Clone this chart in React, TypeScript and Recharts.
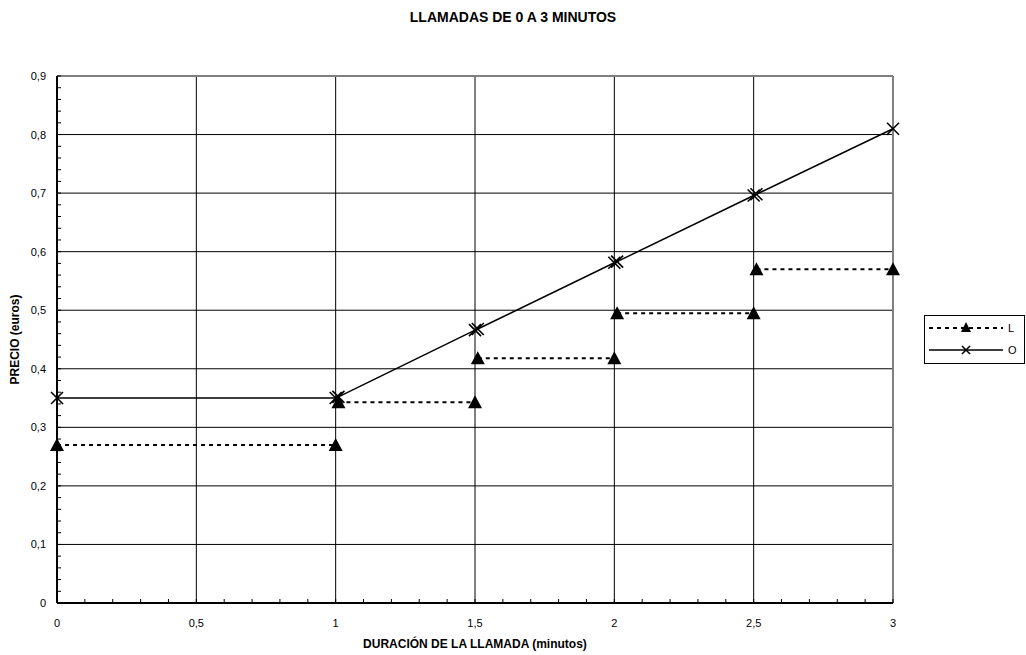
import { LineChart, Line, XAxis, YAxis, ReferenceLine, Legend, Label } from 'recharts';

// Duración de la llamada (minutos)
const durations = [0, 1, 1.01, 1.5, 1.51, 2, 2.01, 2.5, 2.51, 3];
// Precio (euros) por operador
const precioL = [0.27, 0.27, 0.343, 0.343, 0.418, 0.418, 0.495, 0.495, 0.57, 0.57];
const precioO = [0.35, 0.35, 0.352, 0.466, 0.468, 0.581, 0.583, 0.696, 0.698, 0.81];

const xMajorTicks = [0, 0.5, 1, 1.5, 2, 2.5, 3];
const yMajorTicks = [0, 0.1, 0.2, 0.3, 0.4, 0.5, 0.6, 0.7, 0.8, 0.9];

// minor tick marks: every 0.1 min on x, every 0.02 € on y
const xMinorTicks = Array.from({ length: 31 }, (_, i) => i / 10);
const yMinorTicks = Array.from({ length: 46 }, (_, i) => (i * 2) / 100);

// L is drawn as separate steps: a null row after each step breaks the dashed line
const data: { x: number; L: number | null; O: number | null }[] = [];
durations.forEach((x, i) => {
  data.push({ x, L: precioL[i], O: precioO[i] });
  if (i % 2 === 1 && i < durations.length - 1) {
    data.push({ x: (x + durations[i + 1]) / 2, L: null, O: null });
  }
});

const FONT = '"Liberation Sans", Arial, sans-serif';
const fmt = (v: number) => String(v).replace('.', ',');
const isMajor = (v: number, list: number[]) => list.some((m) => Math.abs(m - v) < 1e-6);

const Triangle = ({ cx, cy }: { cx: number; cy: number }) => (
  <path d={`M${cx},${cy - 7} L${cx + 7},${cy + 6} L${cx - 7},${cy + 6} Z`} fill="#000" />
);

const Cross = ({ cx, cy }: { cx: number; cy: number }) => (
  <g stroke="#000" strokeWidth={1.6}>
    <line x1={cx - 6} y1={cy - 6} x2={cx + 6} y2={cy + 6} />
    <line x1={cx - 6} y1={cy + 6} x2={cx + 6} y2={cy - 6} />
  </g>
);

const YTick = (props: any) => {
  const { x, y, payload } = props;
  const major = isMajor(payload.value, yMajorTicks);
  return (
    <g>
      <line x1={x} x2={x + 4} y1={y} y2={y} stroke="#000" strokeWidth={1} />
      {major && (
        <text x={x - 11} y={y} textAnchor="end" dominantBaseline="central" fontSize={11} fontFamily={FONT} fill="#000">
          {fmt(payload.value)}
        </text>
      )}
    </g>
  );
};

const XTick = (props: any) => {
  const { x, y, payload } = props;
  const major = isMajor(payload.value, xMajorTicks);
  return (
    <g>
      <line x1={x} x2={x} y1={y} y2={y - 4} stroke="#000" strokeWidth={1} />
      {major && (
        <text x={x} y={y + 20} textAnchor="middle" dominantBaseline="central" fontSize={11} fontFamily={FONT} fill="#000">
          {fmt(payload.value)}
        </text>
      )}
    </g>
  );
};

const LegendBox = () => (
  <svg width={101} height={49} style={{ display: 'block' }}>
    <rect x={0.5} y={0.5} width={100} height={48} fill="#fff" stroke="#000" strokeWidth={1} />
    <line x1={5} x2={79} y1={13} y2={13} stroke="#000" strokeWidth={2} strokeDasharray="4 4" />
    <path d="M42,7 L47,17 L37,17 Z" fill="#000" />
    <text x={84} y={13} dominantBaseline="central" fontSize={11} fontFamily={FONT}>L</text>
    <line x1={5} x2={79} y1={35} y2={35} stroke="#000" strokeWidth={1.5} />
    <g stroke="#000" strokeWidth={1.6}>
      <line x1={38} y1={31} x2={46} y2={39} />
      <line x1={38} y1={39} x2={46} y2={31} />
    </g>
    <text x={84} y={35} dominantBaseline="central" fontSize={11} fontFamily={FONT}>O</text>
  </svg>
);

export default function App() {
  return (
    <div style={{ position: 'absolute', left: 0, top: 0, width: 1026, height: 655, background: '#fff', fontFamily: FONT }}>
      <div
        style={{
          position: 'absolute',
          top: 9,
          left: 0,
          width: 1026,
          textAlign: 'center',
          fontSize: 14,
          fontWeight: 'bold',
          fontFamily: FONT,
          lineHeight: '16px',
        }}
      >
        LLAMADAS DE 0 A 3 MINUTOS
      </div>
      <LineChart width={1026} height={655} data={data} margin={{ top: 76, right: 133, bottom: 0, left: 0 }}>
        {yMajorTicks.slice(1, -1).map((v) => (
          <ReferenceLine key={`gy-${v}`} y={v} stroke="#000" strokeWidth={1} />
        ))}
        {xMajorTicks.slice(1, -1).map((v) => (
          <ReferenceLine key={`gx-${v}`} x={v} stroke="#000" strokeWidth={1} />
        ))}
        <ReferenceLine y={0.9} stroke="#808080" strokeWidth={2} />
        <ReferenceLine x={3} stroke="#808080" strokeWidth={2} />
        <XAxis
          dataKey="x"
          type="number"
          domain={[0, 3]}
          ticks={xMinorTicks}
          interval={0}
          height={52}
          tickSize={0}
          tickMargin={0}
          tickLine={false}
          tick={<XTick />}
          axisLine={{ stroke: '#000', strokeWidth: 2 }}
        >
          <Label
            value="DURACIÓN DE LA LLAMADA (minutos)"
            position="center"
            dy={15}
            style={{ fontSize: 12, fontWeight: 'bold', fontFamily: FONT, fill: '#000' }}
          />
        </XAxis>
        <YAxis
          type="number"
          domain={[0, 0.9]}
          ticks={yMinorTicks}
          interval={0}
          width={57}
          tickSize={0}
          tickMargin={0}
          tickLine={false}
          tick={<YTick />}
          axisLine={{ stroke: '#000', strokeWidth: 2 }}
        >
          <Label
            value="PRECIO (euros)"
            position="center"
            angle={-90}
            dx={-14}
            style={{ fontSize: 12, fontWeight: 'bold', fontFamily: FONT, fill: '#000', textAnchor: 'middle' }}
          />
        </YAxis>
        <Line
          type="linear"
          dataKey="L"
          stroke="#000"
          strokeWidth={2}
          strokeDasharray="4 4"
          connectNulls={false}
          isAnimationActive={false}
          dot={(p: any) =>
            p.value == null ? <g key={`l-${p.index}`} /> : <Triangle key={`l-${p.index}`} cx={p.cx} cy={p.cy} />
          }
          activeDot={false}
        />
        <Line
          type="linear"
          dataKey="O"
          stroke="#000"
          strokeWidth={1.5}
          connectNulls
          isAnimationActive={false}
          dot={(p: any) =>
            p.value == null ? <g key={`o-${p.index}`} /> : <Cross key={`o-${p.index}`} cx={p.cx} cy={p.cy} />
          }
          activeDot={false}
        />
        <Legend
          layout="horizontal"
          verticalAlign="middle"
          align="center"
          content={() => <LegendBox />}
          wrapperStyle={{ left: 924, top: 315, width: 101, height: 49 }}
        />
      </LineChart>
    </div>
  );
}
